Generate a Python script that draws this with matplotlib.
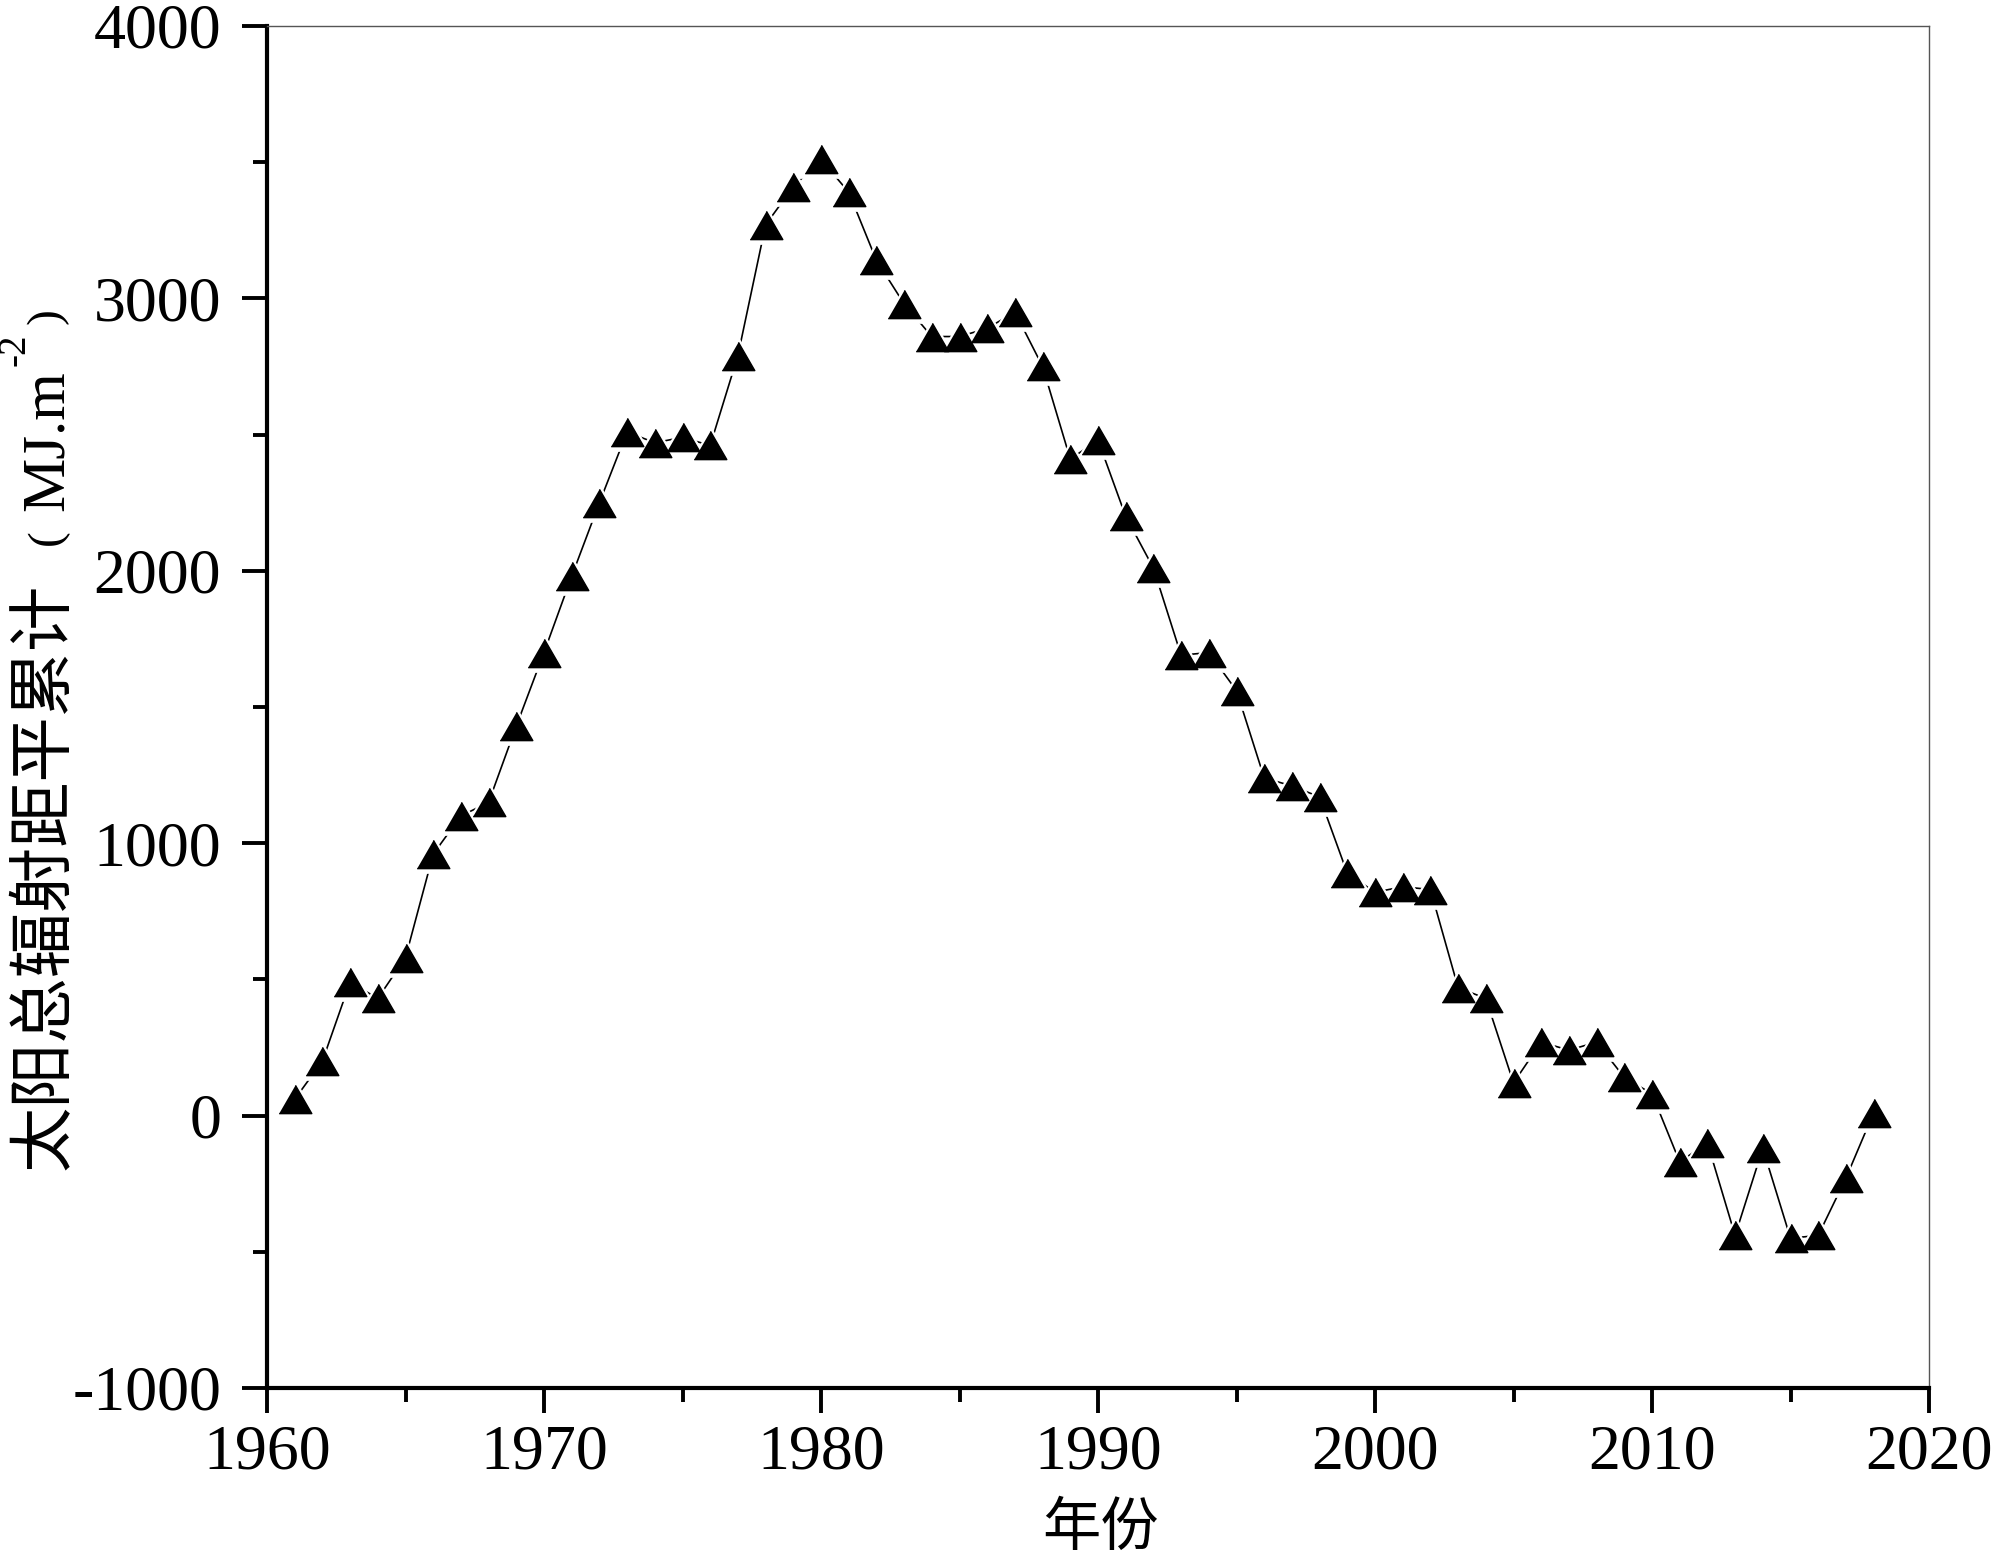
import matplotlib
matplotlib.use("Agg")
import matplotlib.pyplot as plt
from matplotlib.ticker import MultipleLocator
from matplotlib.transforms import IdentityTransform

years = list(range(1961, 2019))
values = [60, 200, 490, 430, 580, 960, 1100, 1150, 1430, 1700,
          1980, 2250, 2510, 2470, 2490, 2460, 2790, 3270, 3410, 3510,
          3390, 3140, 2980, 2860, 2860, 2890, 2950, 2750, 2410, 2480,
          2200, 2010, 1690, 1700, 1560, 1240, 1210, 1170, 890, 820,
          840, 830, 470, 430, 120, 270, 240, 270, 140, 80,
          -170, -100, -440, -120, -450, -440, -230, 10]

xlabel = "年份"
ylabel_cjk = "太阳总辐射距平累计"
ylabel_unit = "MJ.m"
ylabel_sup = "-2"

plt.rcParams['axes.unicode_minus'] = False

W, H = 2000, 1560
fig = plt.figure(figsize=(W / 100, H / 100), dpi=100)
ax = fig.add_axes([267 / W, 1 - 1388 / H, (1929 - 267) / W, (1388 - 26) / H])

tri = [(-1, -0.866), (1, -0.866), (0, 0.866)]
ax.plot(years, values, color='black', lw=1.2, zorder=1)
ax.plot(years, values, ls='none', marker=tri, ms=31, mfc='white', mec='white', zorder=2)
ax.plot(years, values, ls='none', marker=tri, ms=23.5, mfc='black', mec='black', zorder=3)

ax.set_xlim(1960, 2020)
ax.set_ylim(-1000, 4000)
ax.xaxis.set_major_locator(MultipleLocator(10))
ax.xaxis.set_minor_locator(MultipleLocator(5))
ax.yaxis.set_major_locator(MultipleLocator(1000))
ax.yaxis.set_minor_locator(MultipleLocator(500))

for s in ['left', 'bottom']:
    ax.spines[s].set_linewidth(3.0)
    ax.spines[s].set_color('black')
for s in ['top', 'right']:
    ax.spines[s].set_linewidth(1.0)
    ax.spines[s].set_color('#555555')

ax.tick_params(which='major', direction='out', length=18, width=2.8, top=False, right=False)
ax.tick_params(which='minor', direction='out', length=10, width=2.8, top=False, right=False)
ax.tick_params(axis='y', which='major', pad=15)
ax.tick_params(axis='x', which='major', pad=8)

for lab in ax.get_xticklabels() + ax.get_yticklabels():
    lab.set_fontfamily('Liberation Serif')
    lab.set_fontsize(46)

# x label
fig.text(1101, 15, xlabel, transform=IdentityTransform(), ha='center', va='baseline',
         family=['Noto Sans CJK SC', 'DejaVu Sans'], fontsize=42)

# y label built from pieces along a shared baseline (rotated 90 degrees)
renderer = fig.canvas.get_renderer()
cjk = ['Noto Sans CJK SC', 'DejaVu Sans']
ser = ['Liberation Serif', 'DejaVu Sans']
base_x = 63
y_pos = H - 1170
# (text, family, size, rise_px, gap_before_px)
pieces = [
    (ylabel_cjk, cjk, 47, 0, 0),
    ("(", ser, 34, 4, 38),
    (ylabel_unit, ser, 44, 0, 18),
    (ylabel_sup, ser, 28, 38, 4),
    (")", ser, 34, 4, 10),
]

for txt, fam, size, rise, gap in pieces:
    y_pos += gap
    t = fig.text(base_x - rise, y_pos, txt, transform=IdentityTransform(),
                 rotation=90, rotation_mode='anchor', ha='left', va='baseline',
                 family=fam, fontsize=size)
    bb = t.get_window_extent(renderer)
    y_pos += bb.height

fig.savefig('out.png', dpi=100, facecolor='white')
